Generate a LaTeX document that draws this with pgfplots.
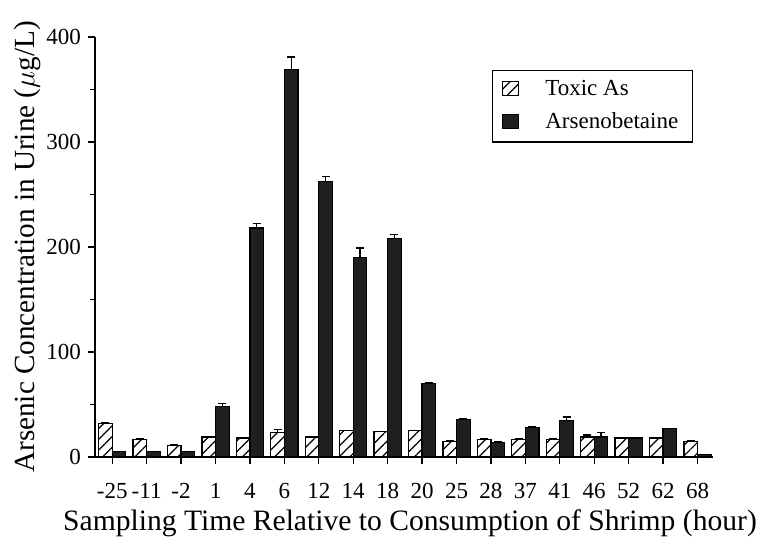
\documentclass[border=0pt]{standalone}
\usepackage{fontspec}
\setmainfont{Liberation Serif}
\usepackage{pgfplots}
\usepackage{pgfplotstable}
\pgfplotsset{compat=1.18}
\usetikzlibrary{patterns.meta,calc}

\pgfplotstableread{
x toxic toxerr arsb arsberr
0 32 0.5 5 0.5
1 17 0.5 5 0.5
2 11 0.5 5 0.5
3 19 0.5 48 3
4 18 0.5 218 4
5 23 3 369 12
6 19 0.5 262 5
7 25 0.5 190 9
8 24 0.5 208 4
9 25 0.5 70 1
10 15 0.5 36 1
11 17 0.5 14 1
12 17 0.5 28 1
13 17 0.5 35 3
14 19 2 19 4
15 18 0.5 18 0.5
16 18 0.5 27 0.5
17 15 0.5 2 0.5
}\datatable

\begin{document}
\begin{tikzpicture}
\begin{axis}[
  name=ax,
  scale only axis,
  width=309pt, height=210pt,
  ybar, bar width=6.8pt,
  xmin=-0.5, xmax=17.45,
  ymin=0, ymax=400,
  axis lines*=left,
  axis line style={black, line width=0.7pt},
  xtick={0,...,17},
  xticklabels={-25,-11,-2,1,4,6,12,14,18,20,25,28,37,41,46,52,62,68},
  ytick={0,100,200,300,400},
  minor ytick={50,150,250,350},
  tick align=outside,
  major tick length=3.5pt,
  minor tick length=2.5pt,
  tick style={black, line width=0.6pt},
  ticklabel style={font=\fontsize{11.5}{13}\selectfont},
  /pgf/number format/assume math mode=true,
  xticklabel style={yshift=-6pt},
  xlabel={Sampling Time Relative to Consumption of Shrimp (hour)},
  ylabel={Arsenic Concentration in Urine ($\mu$g/L)},
  xlabel style={font=\fontsize{14.8}{17}\selectfont, yshift=1.5pt, xshift=3pt},
  ylabel style={font=\fontsize{14.6}{16}\selectfont, yshift=-4pt},
  clip=false,
  legend style={at={(0.642,0.921)}, anchor=north west, draw=black, line width=0.6pt,
    font=\fontsize{11.5}{13}\selectfont, inner xsep=5pt, inner ysep=3pt,
    row sep=3pt, cells={anchor=west}},
  legend image code/.code={\draw[#1, line width=0.5pt] (0pt,-3pt) rectangle (8pt,4pt);},
  legend cell align=left,
  error bars/y dir=plus,
  error bars/y explicit,
  error bars/error bar style={black, line width=0.6pt},
  error bars/error mark options={rotate=90, mark size=2pt, line width=0.6pt},
]
\addplot[bar shift=-3.4pt, draw=black, line width=0.6pt,
  pattern={Lines[angle=45, distance=3.8pt, line width=0.6pt]}, pattern color=black]
  table[x=x, y=toxic, y error=toxerr] {\datatable};
\addlegendentry{\hspace{11pt}Toxic As}
\addplot[bar shift=3.4pt, draw=black, line width=0.6pt,
  fill=black!88]
  table[x=x, y=arsb, y error=arsberr] {\datatable};
\addlegendentry{\hspace{11pt}Arsenobetaine}
\end{axis}
\pgfresetboundingbox
\useasboundingbox ($(ax.south west)+(-47.5pt,-40.5pt)$) rectangle ($(ax.north east)+(27pt,18.5pt)$);
\end{tikzpicture}
\end{document}
